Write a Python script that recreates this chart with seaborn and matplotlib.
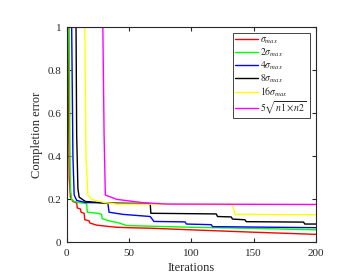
import matplotlib
matplotlib.use('Agg')
import matplotlib.pyplot as plt
import seaborn as sns

# ─── Data ─────────────────────────────────────────────────────────────────────
red_x = [0, 1, 1.5, 2, 3, 5, 8, 8.5, 11, 11.5, 14, 14.5, 18, 18.5, 24, 30, 40, 50, 70, 100, 150, 200]
red_y = [1, 1, 0.6, 0.3, 0.21, 0.19, 0.183, 0.16, 0.155, 0.14, 0.135, 0.105, 0.1, 0.09,
         0.08, 0.076, 0.07, 0.068, 0.065, 0.058, 0.047, 0.037]

green_x = [0, 2, 2.5, 3, 4, 6, 10, 16, 16.5, 25, 28, 28.5, 34, 42, 48, 100, 150, 200]
green_y = [1, 1, 0.5, 0.25, 0.2, 0.19, 0.185, 0.18, 0.14, 0.135, 0.13, 0.11, 0.1,
           0.09, 0.078, 0.07, 0.065, 0.058]

blue_x = [0, 4, 5, 6, 8, 15, 33, 34, 45, 67, 70, 95, 96, 116, 117, 200]
blue_y = [1, 1, 0.4, 0.22, 0.195, 0.185, 0.183, 0.14, 0.13, 0.12, 0.097, 0.095, 0.085,
          0.082, 0.073, 0.068]

black_x = [0, 7.5, 8, 9, 10, 15, 30, 67, 67.5, 120, 121, 132, 133, 143, 144, 190, 191, 200]
black_y = [1, 1, 0.5, 0.25, 0.21, 0.19, 0.183, 0.18, 0.135, 0.132, 0.12, 0.118,
           0.108, 0.105, 0.096, 0.094, 0.085, 0.085]

yellow_x = [0, 14.5, 15.5, 17, 20, 30, 40, 80, 133, 133.5, 135, 200]
yellow_y = [1, 1, 0.4, 0.22, 0.2, 0.185, 0.178, 0.177, 0.175, 0.165, 0.13, 0.128]

magenta_x = [0, 29, 30, 31, 40, 60, 80, 200]
magenta_y = [1, 1, 0.5, 0.22, 0.2, 0.185, 0.178, 0.176]

labels = [r'$\sigma_{max}$', r'$2\sigma_{max}$', r'$4\sigma_{max}$', r'$8\sigma_{max}$',
          r'$16\sigma_{max}$', r'$5\sqrt{n1\times n2}$']
colors = ['#ff0000', '#00ff00', '#0000ff', '#000000', '#ffff00', '#ff00ff']
series = [(red_x, red_y), (green_x, green_y), (blue_x, blue_y),
          (black_x, black_y), (yellow_x, yellow_y), (magenta_x, magenta_y)]

x_ticks = [0, 50, 100, 150, 200]
y_ticks = [0, 0.2, 0.4, 0.6, 0.8, 1]
y_tick_labels = ['0', '0.2', '0.4', '0.6', '0.8', '1']

# ─── Style ────────────────────────────────────────────────────────────────────
sns.set_style('ticks')
plt.rcParams['font.family'] = ['Liberation Serif', 'DejaVu Serif']
plt.rcParams['mathtext.fontset'] = 'stix'
plt.rcParams.update({
    'xtick.direction': 'in', 'ytick.direction': 'in',
    'xtick.top': True, 'ytick.right': True,
    'xtick.major.size': 3, 'ytick.major.size': 3,
    'axes.linewidth': 0.8, 'axes.edgecolor': '#262626',
})

fig = plt.figure(figsize=(3.54, 2.79), dpi=100)
ax = fig.add_axes([0.1884, 0.1315, 0.7043, 0.7705])

for (xs, ys), c, lab in zip(series, colors, labels):
    sns.lineplot(x=xs, y=ys, estimator=None, sort=False, color=c, linewidth=1.0,
                 label=lab, ax=ax)

ax.set_xlim(0, 200)
ax.set_ylim(0, 1)
ax.set_xticks(x_ticks)
ax.set_yticks(y_ticks)
ax.set_yticklabels(y_tick_labels)
ax.tick_params(axis='x', labelsize=8, colors='#262626', pad=5)
ax.tick_params(axis='y', labelsize=8, colors='#262626', pad=4)
ax.set_xlabel('Iterations', fontsize=9, labelpad=3)
ax.set_ylabel('Completion error', fontsize=9, labelpad=3)

leg = ax.legend(loc='upper right', bbox_to_anchor=(0.975, 0.975), borderaxespad=0,
                fontsize=7, handlelength=2.3, handletextpad=0.3, labelspacing=0.05,
                borderpad=0.25, fancybox=False, framealpha=1)
leg.get_frame().set_edgecolor('#262626')
leg.get_frame().set_linewidth(0.6)

plt.savefig('out.png', dpi=100)
plt.close()
